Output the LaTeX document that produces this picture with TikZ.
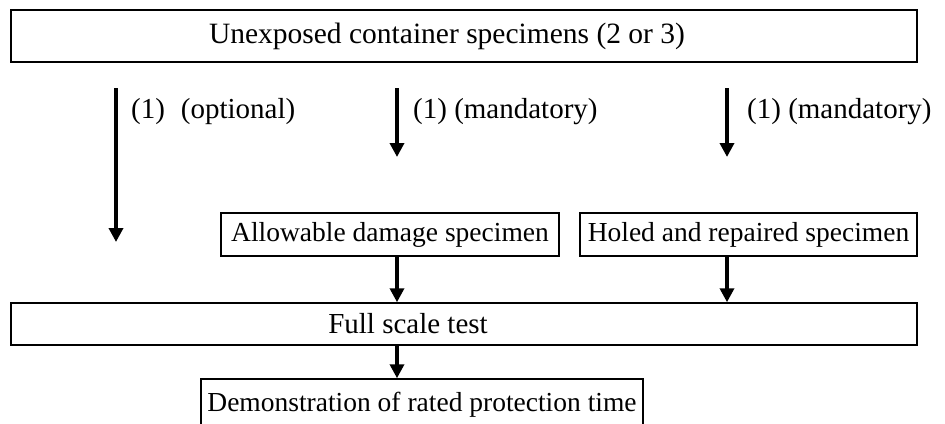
\documentclass[tikz,border=0pt]{standalone}
\usepackage{fontspec}
\setmainfont{Liberation Serif}
\usetikzlibrary{arrows.meta}
\tikzset{
  box/.style={draw=black, line width=1.5pt, rectangle, inner sep=0pt},
  flow/.style={line width=4pt, -{Triangle[width=14pt,length=14pt]}},
  lbl/.style={anchor=west, inner sep=0pt, font=\fontsize{29}{34}\selectfont},
  boxtxt/.style={font=\fontsize{27.5}{32}\selectfont}
}
\begin{document}
\begin{tikzpicture}[x=1pt,y=-1pt]
\useasboundingbox (0,0) rectangle (945,423);
\fill[white] (0,0) rectangle (945,423);
% boxes
\node[box, minimum width=906pt, minimum height=52pt,
  label={[xshift=-17pt, font=\fontsize{29.5}{34}\selectfont]center:Unexposed container specimens (2 or 3)}] (top) at (464,36) {};
\node[box, boxtxt, minimum width=338pt, minimum height=43pt] (allow) at (390,234.5) {Allowable damage specimen};
\node[box, boxtxt, minimum width=337pt, minimum height=43pt] (holed) at (748.5,234.5) {Holed and repaired specimen};
\node[box, minimum width=906pt, minimum height=42pt,
  label={[xshift=-56pt, font=\fontsize{29}{34}\selectfont]center:Full scale test}] (full) at (464,324) {};
\node[box, boxtxt, minimum width=442pt, minimum height=52pt] (demo) at (422,405) {Demonstration of rated protection time};
% free arrow ends
\coordinate (a1s) at (116,88);
\coordinate (a1e) at (116,242);
\coordinate (a2s) at (397,88);
\coordinate (a2e) at (397,157);
\coordinate (a3s) at (727,88);
\coordinate (a3e) at (727,157);
% arrows
\draw[flow] (a1s) -- (a1e);
\draw[flow] (a2s) -- (a2e);
\draw[flow] (a3s) -- (a3e);
\draw[flow] (allow.south -| a2s) -- (full.north -| a2s);
\draw[flow] (holed.south -| a3s) -- (full.north -| a3s);
\draw[flow] (full.south -| a2s) -- (demo.north -| a2s);
% labels
\node[lbl] (l1) at (131,112) {(1)\hspace{0.55em}(optional)};
\node[lbl] (l2) at (413,112) {(1) (mandatory)};
\node[lbl] (l3) at (747,112) {(1) (mandatory)};
\end{tikzpicture}
\end{document}
